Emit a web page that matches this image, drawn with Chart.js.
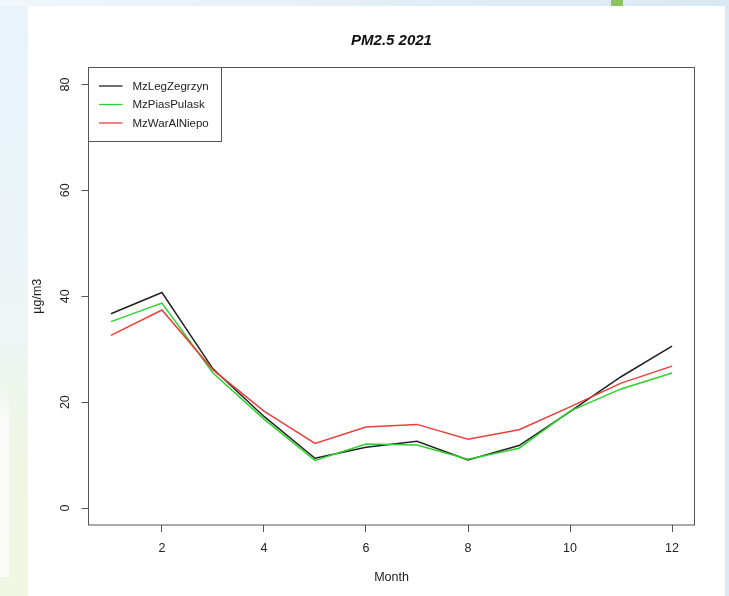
<!DOCTYPE html>
<html>
<head>
<meta charset="utf-8">
<title>PM2.5 2021</title>
<script src="https://cdn.jsdelivr.net/npm/chart.js@4/dist/chart.umd.min.js"></script>
<style>
  html, body { margin: 0; padding: 0; }
  body { width: 729px; height: 596px; position: relative; overflow: hidden;
         background: linear-gradient(90deg, #f1f7fb 0%, #e4eff7 45%, #d9e9f4 100%); }
  #leftStrip { position: absolute; left: 0; top: 6px; width: 28px; height: 590px;
               background: linear-gradient(180deg, #e9f3fb 0%, #edf5f6 55%, #eff6e3 75%, #eff6e1 100%); }
  #leftWhite { position: absolute; left: 0; top: 380px; width: 9px; height: 197px;
               background: linear-gradient(180deg, rgba(250,252,253,0) 0%, #fafcfb 25%, #fbfcf8 100%); }
  #tab { position: absolute; left: 611px; top: 0; width: 12px; height: 6px; background: #8dc35f; }
  #panel { position: absolute; left: 28px; top: 6px; width: 697px; height: 590px; background: #ffffff; }
  #chart { position: absolute; left: 0; top: 0; }
</style>
</head>
<body>
<div id="leftStrip"></div>
<div id="leftWhite"></div>
<div id="tab"></div>
<div id="panel"></div>
<canvas id="chart" width="729" height="596"></canvas>
<script>
// Monthly mean PM2.5 concentrations, 2021
const months = [1, 2, 3, 4, 5, 6, 7, 8, 9, 10, 11, 12];
const mzLegZegrzyn = [36.7, 40.7, 26.3, 17.3, 9.4, 11.5, 12.6, 9.1, 11.8, 18.2, 24.8, 30.6];
const mzPiasPulask = [35.2, 38.7, 25.5, 16.8, 9.0, 12.1, 11.9, 9.2, 11.3, 18.3, 22.5, 25.5];
const mzWarAlNiepo = [32.6, 37.4, 26.1, 18.3, 12.2, 15.3, 15.8, 13.0, 14.8, 19.1, 23.6, 26.8];

const seriesNames = ['MzLegZegrzyn', 'MzPiasPulask', 'MzWarAlNiepo'];
const seriesColors = ['#222222', '#2ed12e', '#e8403a'];

const xTicks = [2, 4, 6, 8, 10, 12];
const yTicks = [0, 20, 40, 60, 80];

const chartTitle = 'PM2.5 2021';
const xTitle = 'Month';
const yTitle = 'µg/m3';

const FONT = '"Liberation Sans", Arial, Helvetica, sans-serif';
const AXIS_COLOR = '#555555';

function toPoints(values) {
  return months.map((m, i) => ({ x: m, y: values[i] }));
}

const seriesValues = [mzLegZegrzyn, mzPiasPulask, mzWarAlNiepo];
const datasets = seriesValues.map((vals, i) => ({
  label: seriesNames[i],
  data: toPoints(vals),
  borderColor: seriesColors[i],
  backgroundColor: seriesColors[i],
  borderWidth: 1.5,
  pointRadius: 0,
  tension: 0,
  fill: false,
  order: seriesValues.length - i   // later series painted on top
}));

// Frame around the plotting region, main title and boxed legend
const frameAndLegend = {
  id: 'frameAndLegend',
  afterDatasetsDraw(chart) {
    const { ctx, chartArea: a } = chart;
    ctx.save();

    // legend box in the top-left corner of the plot
    const boxW = 133, boxH = 74;
    ctx.fillStyle = '#ffffff';
    ctx.fillRect(a.left, a.top, boxW, boxH);
    ctx.strokeStyle = AXIS_COLOR;
    ctx.lineWidth = 1;
    ctx.strokeRect(a.left, a.top, boxW, boxH);

    ctx.font = '11.5px ' + FONT;
    ctx.textBaseline = 'middle';
    ctx.textAlign = 'left';
    chart.data.datasets.forEach((ds, i) => {
      const y = a.top + 18.5 + i * 18.5;
      ctx.strokeStyle = ds.borderColor;
      ctx.lineWidth = 1.3;
      ctx.beginPath();
      ctx.moveTo(a.left + 10.5, y);
      ctx.lineTo(a.left + 34, y);
      ctx.stroke();
      ctx.fillStyle = '#222222';
      ctx.fillText(ds.label, a.left + 44, y + 0.5);
    });

    // plot frame
    ctx.strokeStyle = AXIS_COLOR;
    ctx.lineWidth = 1;
    ctx.strokeRect(a.left, a.top, a.right - a.left, a.bottom - a.top);

    // title centred over the plotting region
    ctx.fillStyle = '#111111';
    ctx.font = 'italic bold 15px ' + FONT;
    ctx.textAlign = 'center';
    ctx.textBaseline = 'middle';
    ctx.fillText(chartTitle, (a.left + a.right) / 2, 40.5);
    ctx.restore();
  }
};

new Chart(document.getElementById('chart'), {
  type: 'line',
  data: { datasets },
  options: {
    responsive: false,
    devicePixelRatio: 1,
    animation: false,
    layout: { padding: { left: 0, top: 67.5, right: 34.5, bottom: 0 } },
    plugins: {
      legend: { display: false },
      title: { display: false },
      tooltip: { enabled: false }
    },
    scales: {
      x: {
        type: 'linear',
        min: 0.56,
        max: 12.44,
        afterBuildTicks: s => { s.ticks = xTicks.map(v => ({ value: v })); },
        afterFit: s => { s.height = 71; },
        border: { display: false },
        grid: { drawOnChartArea: false, drawTicks: true, tickLength: 7, color: AXIS_COLOR, lineWidth: 1 },
        ticks: {
          autoSkip: false, maxRotation: 0, padding: 9,
          color: '#222222', font: { family: FONT, size: 12.5 },
          callback: v => String(v)
        },
        title: {
          display: true, text: xTitle, color: '#222222',
          font: { family: FONT, size: 12.5 },
          padding: { top: 0, bottom: 11 }
        }
      },
      y: {
        type: 'linear',
        min: -3.2,
        max: 83.2,
        afterBuildTicks: s => { s.ticks = yTicks.map(v => ({ value: v })); },
        afterFit: s => { s.width = 88.5; },
        border: { display: false },
        grid: { drawOnChartArea: false, drawTicks: true, tickLength: 7, color: AXIS_COLOR, lineWidth: 1 },
        ticks: {
          autoSkip: false, minRotation: 90, maxRotation: 90,
          crossAlign: 'center', padding: 9.5,
          color: '#222222', font: { family: FONT, size: 12.5 },
          callback: v => String(v)
        },
        title: {
          display: true, text: yTitle, color: '#222222',
          font: { family: FONT, size: 12.5 },
          padding: { top: 30.5, bottom: 0 }
        }
      }
    }
  },
  plugins: [frameAndLegend]
});
</script>
</body>
</html>
